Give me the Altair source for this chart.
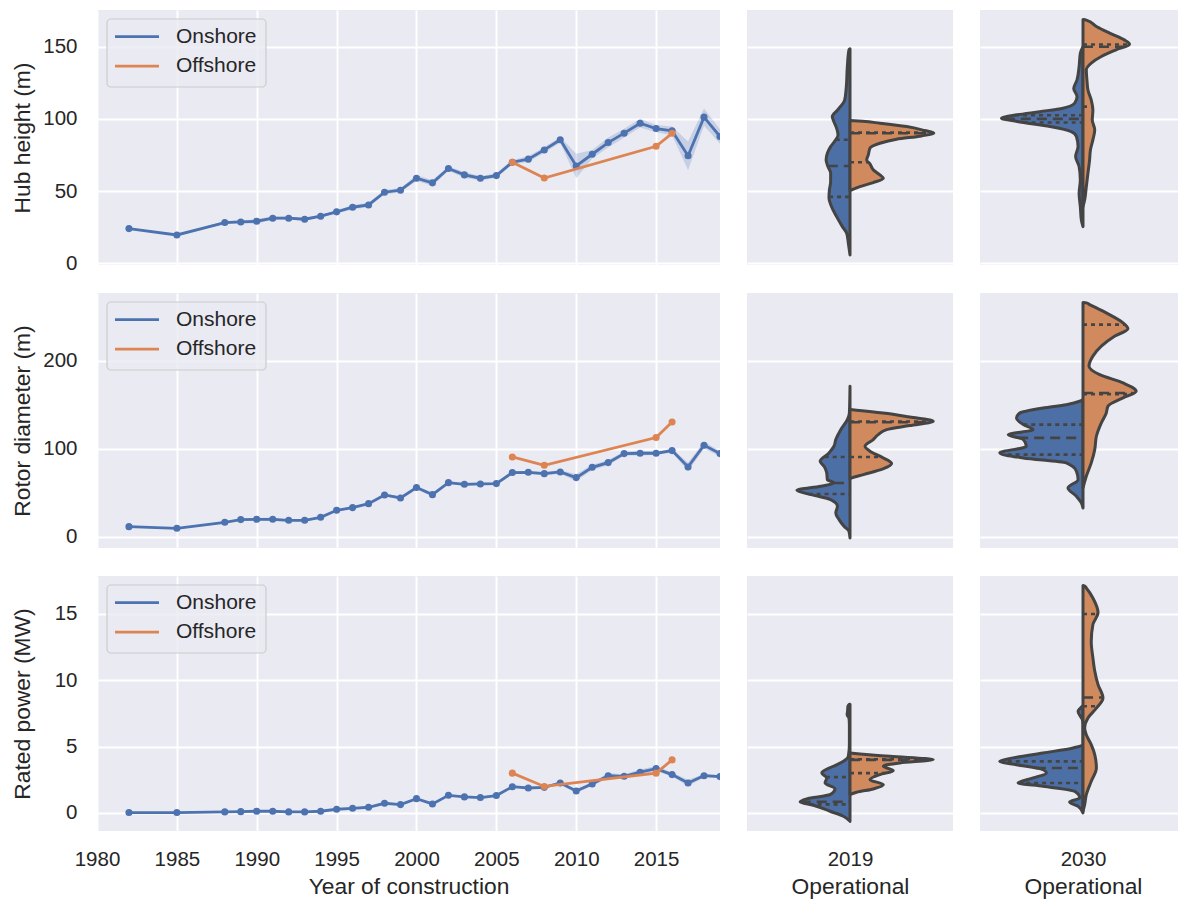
import altair as alt
import numpy as np
import pandas as pd

# ---------------------------------------------------------------------------
# Yearly mean turbine characteristics (left column)
# ---------------------------------------------------------------------------
YEARS = [1982, 1985, 1988, 1989, 1990, 1991, 1992, 1993, 1994, 1995, 1996, 1997,
         1998, 1999, 2000, 2001, 2002, 2003, 2004, 2005, 2006, 2007, 2008, 2009,
         2010, 2011, 2012, 2013, 2014, 2015, 2016, 2017, 2018, 2019]
OFF_YEARS = [2006, 2008, 2015, 2016]
SERIES = ["Onshore", "Offshore"]
X_TICKS = [1980, 1985, 1990, 1995, 2000, 2005, 2010, 2015]

HUB_ON = [24.0, 19.6, 28.2, 28.6, 29.1, 31.2, 31.2, 30.5, 32.6, 35.6, 38.8, 40.4,
          49.2, 50.6, 58.9, 55.7, 65.6, 61.2, 58.9, 60.7, 70.0, 72.1, 78.5, 85.5,
          67.4, 75.5, 83.6, 90.1, 97.0, 93.3, 91.7, 74.4, 101.2, 87.8]
HUB_CI = [0.5, 0.5, 1.0, 1.0, 1.5, 1.0, 1.0, 1.0, 1.0, 1.0, 1.5, 1.5,
          1.5, 1.5, 2.0, 2.0, 1.5, 2.0, 1.5, 1.5, 1.5, 2.0, 2.0, 2.0,
          8.5, 3.0, 3.5, 3.0, 3.0, 2.5, 3.0, 10.0, 6.0, 5.0]
HUB_OFF = [70.0, 59.0, 81.0, 90.0]

ROTOR_ON = [11.7, 9.8, 16.6, 19.7, 20.0, 20.0, 18.9, 18.9, 22.3, 30.2, 33.3, 37.8,
            47.6, 44.2, 56.0, 48.0, 61.6, 59.7, 60.1, 60.5, 73.0, 73.3, 71.8, 73.7,
            67.3, 79.0, 84.3, 94.5, 94.9, 94.9, 97.9, 79.4, 104.0, 94.5]
ROTOR_CI = [0.5, 0.5, 1.0, 1.0, 1.5, 2.0, 1.0, 1.0, 1.0, 1.0, 1.0, 1.0,
            1.5, 1.5, 2.0, 2.0, 1.5, 1.5, 1.5, 1.5, 1.5, 1.5, 2.0, 2.0,
            4.0, 3.0, 3.0, 2.5, 2.5, 2.0, 2.0, 5.0, 4.0, 3.0]
ROTOR_OFF = [90.7, 81.3, 112.7, 130.4]

POWER_ON = [0.03, 0.03, 0.08, 0.10, 0.13, 0.13, 0.08, 0.08, 0.13, 0.28, 0.35, 0.43,
            0.73, 0.63, 1.08, 0.68, 1.33, 1.21, 1.16, 1.31, 1.98, 1.88, 1.93, 2.26,
            1.66, 2.19, 2.81, 2.76, 3.07, 3.34, 2.89, 2.26, 2.81, 2.74]
POWER_CI = [0.01, 0.01, 0.02, 0.02, 0.03, 0.03, 0.02, 0.02, 0.02, 0.03, 0.03, 0.04,
            0.05, 0.05, 0.06, 0.06, 0.06, 0.06, 0.05, 0.05, 0.06, 0.06, 0.08, 0.1,
            0.15, 0.12, 0.2, 0.15, 0.2, 0.2, 0.15, 0.25, 0.12, 0.12]
POWER_OFF = [3.0, 2.0, 3.0, 4.0]

# ---------------------------------------------------------------------------
# Fleet distributions (split violins): outline value / half-width, quartiles
# ---------------------------------------------------------------------------
HUB_2019_ON_V = [148.5, 147.8, 136, 122, 113, 106, 101.6, 98, 93.5, 88.9, 85.5, 80.8, 76.2,
                 71.6, 67, 62.4, 56.6, 50.8, 45, 39.3, 32.3, 25.4, 20.8, 13.9, 5.8]
HUB_2019_ON_W = [0.0, 0.005, 0.013, 0.018, 0.026, 0.061, 0.086, 0.078, 0.065, 0.058, 0.069,
                 0.094, 0.110, 0.116, 0.107, 0.094, 0.094, 0.100, 0.102, 0.090, 0.065,
                 0.037, 0.016, 0.008, 0.0]
HUB_2019_ON_Q = [46.0, 67.4, 85.5]
HUB_2019_OFF_V = [98.8, 98.3, 97.0, 94.7, 91.9, 90.1, 88.2, 85.9, 83.1, 79.7, 75.1, 71.6,
                  68.8, 64.7, 61.2, 58.9, 55.9, 53.1, 50.8, 50.3]
HUB_2019_OFF_W = [0.0, 0.06, 0.145, 0.275, 0.363, 0.407, 0.347, 0.226, 0.145, 0.097, 0.089,
                  0.081, 0.097, 0.113, 0.145, 0.162, 0.113, 0.048, 0.008, 0.0]
HUB_2019_OFF_Q = [70.0, 90.0, 90.5]

HUB_2030_ON_V = [150, 145.5, 136, 127, 121, 115.5, 111, 107.4, 105, 102.8, 100.5, 98.2,
                 94.7, 91.2, 87.8, 80.8, 73.9, 67, 57.7, 48.5, 39.3, 30, 25.4]
HUB_2030_ON_W = [0.0, 0.013, 0.019, 0.029, 0.045, 0.029, 0.04, 0.097, 0.21, 0.32, 0.396,
                 0.32, 0.16, 0.057, 0.032, 0.024, 0.036, 0.019, 0.013, 0.019, 0.013,
                 0.008, 0.0]
HUB_2030_ON_Q = [97.5, 100.0, 102.5]
HUB_2030_OFF_V = [168.8, 168.4, 164, 159.4, 154.7, 151.7, 147.8, 143.2, 138.6, 134, 127,
                  120, 113, 106, 99.3, 92.4, 85.5, 78.5, 71.6, 62.4, 53, 43.9, 39.3]
HUB_2030_OFF_W = [0.0, 0.016, 0.065, 0.129, 0.2, 0.226, 0.16, 0.089, 0.04, 0.016, 0.019,
                  0.024, 0.04, 0.048, 0.045, 0.057, 0.048, 0.036, 0.032, 0.024, 0.016,
                  0.008, 0.0]
HUB_2030_OFF_Q = [108.5, 150.0, 151.5]

ROTOR_2019_ON_V = [170.9, 140.6, 133.1, 121.7, 110.4, 102.8, 95.3, 85.8, 80.2, 72.6, 65.0,
                   61.2, 57.5, 52.9, 48.0, 42.3, 34.8, 27.2, 19.7, 12.1, 6.4, -1.1]
ROTOR_2019_ON_W = [0.0, 0.003, 0.013, 0.045, 0.069, 0.078, 0.102, 0.145, 0.126, 0.113, 0.110,
                   0.078, 0.142, 0.258, 0.19, 0.094, 0.061, 0.069, 0.053, 0.029, 0.005, 0.0]
ROTOR_2019_ON_Q = [48.8, 61.2, 90.7]
ROTOR_2019_OFF_V = [144.4, 143.7, 140.6, 136, 131.2, 126.3, 121.7, 116, 110.4, 102.8, 97.2,
                    89.6, 83.2, 77.1, 70.7, 66.9, 65.8]
ROTOR_2019_OFF_W = [0.0, 0.032, 0.16, 0.29, 0.404, 0.29, 0.178, 0.137, 0.113, 0.073, 0.097,
                    0.162, 0.202, 0.16, 0.065, 0.008, 0.0]
ROTOR_2019_OFF_Q = [90.7, 130.0, 131.0]

ROTOR_2030_ON_V = [155.8, 153.9, 150, 146.3, 140.6, 135, 127.4, 121.7, 116, 110.4, 102.8,
                   95.3, 89.6, 83.9, 74.5, 65, 55.6, 46.1, 38.6, 32.9]
ROTOR_2030_ON_W = [0.0, 0.016, 0.081, 0.194, 0.307, 0.323, 0.29, 0.242, 0.363, 0.29, 0.275,
                   0.404, 0.29, 0.081, 0.032, 0.024, 0.073, 0.032, 0.008, 0.0]
ROTOR_2030_ON_Q = [93.4, 112.3, 127.4]
ROTOR_2030_OFF_V = [265.8, 265.4, 263.5, 254, 242.7, 236, 227.6, 216.3, 205, 193.6, 184,
                    174.7, 165.2, 157.7, 148.2, 140.6, 129.3, 114.2, 99, 84, 68.8, 55.6]
ROTOR_2030_OFF_W = [0.0, 0.016, 0.032, 0.113, 0.194, 0.218, 0.153, 0.089, 0.048, 0.029,
                    0.081, 0.194, 0.258, 0.194, 0.121, 0.113, 0.089, 0.065, 0.057, 0.04,
                    0.016, 0.0]
ROTOR_2030_OFF_Q = [162.0, 163.3, 240.8]

POWER_2019_ON_V = [8.2, 8.17, 8.04, 7.66, 7.4, 7.16, 6.66, 5.15, 4.27, 3.89, 3.52, 3.02,
                   2.64, 2.26, 1.83, 1.38, 1.06, 0.83, 0.58, 0.13, -0.25, -0.63]
POWER_2019_ON_W = [0.0, 0.005, 0.01, 0.012, 0.014, 0.005, 0.003, 0.003, 0.008, 0.032,
                   0.081, 0.137, 0.113, 0.121, 0.073, 0.097, 0.21, 0.242, 0.178, 0.097,
                   0.032, 0.0]
POWER_2019_ON_Q = [0.65, 0.85, 2.7]
POWER_2019_OFF_V = [4.52, 4.45, 4.27, 4.02, 3.77, 3.52, 3.19, 2.89, 2.51, 2.14, 1.81,
                    1.56, 1.38]
POWER_2019_OFF_W = [0.0, 0.048, 0.194, 0.404, 0.242, 0.162, 0.21, 0.145, 0.097, 0.162,
                    0.113, 0.032, 0.0]
POWER_2019_OFF_Q = [3.0, 4.0, 4.05]

POWER_2030_ON_V = [8.1, 7.9, 7.66, 7.29, 7.04, 6.66, 5.15, 4.9, 4.52, 4.15, 3.89, 3.64,
                   3.34, 3.02, 2.64, 2.26, 2.01, 1.63, 1.13, 0.83, 0.5, 0.0]
POWER_2030_ON_W = [0.0, 0.013, 0.024, 0.013, 0.003, 0.0, 0.0, 0.048, 0.194, 0.339, 0.404,
                   0.323, 0.21, 0.178, 0.242, 0.315, 0.194, 0.04, 0.016, 0.065, 0.024, 0.0]
POWER_2030_ON_Q = [2.26, 3.39, 3.89]
POWER_2030_OFF_V = [17.15, 17.1, 16.96, 16.2, 15.1, 14.2, 12.9, 11.7, 10.7, 9.67, 8.67,
                    7.9, 7.16, 6.4, 5.9, 5.15, 4.4, 3.39, 2.39, 1.38, 0.63, 0.13]
POWER_2030_OFF_W = [0.0, 0.008, 0.016, 0.048, 0.073, 0.048, 0.04, 0.048, 0.057, 0.073,
                    0.097, 0.065, 0.024, 0.008, 0.016, 0.04, 0.057, 0.065, 0.04, 0.016,
                    0.008, 0.0]
POWER_2030_OFF_Q = [8.04, 8.7, 15.0]

# ---------------------------------------------------------------------------
# Styling
# ---------------------------------------------------------------------------
FONT = "Liberation Sans"
BG = "#EAEAF2"
TXT = "#262626"
BLUE = "#4C72B0"
ORANGE = "#DD8452"
VBLUE = "#4C6FA6"
VORANGE = "#D18A5E"
EDGE = "#444444"

LEFT_W, VIO_W, VIO_W_LAST, ROW_H = 623, 206, 198, 255
TITLE_X = -75

ROWS = [
    dict(title="Hub height (m)", dom=[-1.2, 175.4], ticks=[0, 50, 100, 150],
         on=HUB_ON, ci=HUB_CI, off=HUB_OFF,
         v2019=(HUB_2019_ON_V, HUB_2019_ON_W, HUB_2019_ON_Q,
                HUB_2019_OFF_V, HUB_2019_OFF_W, HUB_2019_OFF_Q),
         v2030=(HUB_2030_ON_V, HUB_2030_ON_W, HUB_2030_ON_Q,
                HUB_2030_OFF_V, HUB_2030_OFF_W, HUB_2030_OFF_Q)),
    dict(title="Rotor diameter (m)", dom=[-12.5, 276.6], ticks=[0, 100, 200],
         on=ROTOR_ON, ci=ROTOR_CI, off=ROTOR_OFF,
         v2019=(ROTOR_2019_ON_V, ROTOR_2019_ON_W, ROTOR_2019_ON_Q,
                ROTOR_2019_OFF_V, ROTOR_2019_OFF_W, ROTOR_2019_OFF_Q),
         v2030=(ROTOR_2030_ON_V, ROTOR_2030_ON_W, ROTOR_2030_ON_Q,
                ROTOR_2030_OFF_V, ROTOR_2030_OFF_W, ROTOR_2030_OFF_Q)),
    dict(title="Rated power (MW)", dom=[-1.36, 17.86], ticks=[0, 5, 10, 15],
         on=POWER_ON, ci=POWER_CI, off=POWER_OFF,
         v2019=(POWER_2019_ON_V, POWER_2019_ON_W, POWER_2019_ON_Q,
                POWER_2019_OFF_V, POWER_2019_OFF_W, POWER_2019_OFF_Q),
         v2030=(POWER_2030_ON_V, POWER_2030_ON_W, POWER_2030_ON_Q,
                POWER_2030_OFF_V, POWER_2030_OFF_W, POWER_2030_OFF_Q)),
]


def legend_layers():
    box = alt.Chart(pd.DataFrame({"s": [0]})).mark_rect(
        fill=BG, fillOpacity=0.8, stroke="#CCCCCC", strokeWidth=1.2, cornerRadius=4
    ).encode(x=alt.value(10), x2=alt.value(169), y=alt.value(9), y2=alt.value(77))
    layers = [box]
    for i, (name, color) in enumerate(zip(SERIES, [BLUE, ORANGE])):
        ypos = 26.7 + 29.5 * i
        src = pd.DataFrame({"series": [name]})
        layers.append(alt.Chart(src).mark_rule(color=color, strokeWidth=2.7).encode(
            x=alt.value(18), x2=alt.value(62), y=alt.value(ypos)))
        layers.append(alt.Chart(src).mark_text(
            align="left", baseline="middle", font=FONT, fontSize=21, color=TXT
        ).encode(x=alt.value(79), y=alt.value(ypos), text="series:N"))
    return layers


def trend_panel(row, bottom):
    xscale = alt.Scale(domain=[1980, 2019], nice=False, zero=False)
    yscale = alt.Scale(domain=row["dom"], nice=False, zero=False)
    xaxis = alt.Axis(values=X_TICKS, format="d", labels=bottom, labelFlush=False,
                     title="Year of construction" if bottom else None, grid=True)
    yaxis = alt.Axis(values=row["ticks"], title=row["title"], grid=True,
                     titleX=TITLE_X, titleBaseline="middle")

    on = pd.DataFrame({"year": YEARS, "value": row["on"],
                       "lo": [v - c for v, c in zip(row["on"], row["ci"])],
                       "hi": [v + c for v, c in zip(row["on"], row["ci"])]})
    off = pd.DataFrame({"year": OFF_YEARS, "value": row["off"]})

    band = alt.Chart(on).mark_area(color=BLUE, opacity=0.22, clip=True).encode(
        x=alt.X("year:Q", scale=xscale, axis=xaxis),
        y=alt.Y("lo:Q", scale=yscale, axis=yaxis), y2="hi:Q")

    def series_layers(df, color):
        enc = dict(x=alt.X("year:Q", scale=xscale, axis=xaxis),
                   y=alt.Y("value:Q", scale=yscale, axis=yaxis))
        line = alt.Chart(df).mark_line(color=color, strokeWidth=2.8, clip=True).encode(**enc)
        pts = alt.Chart(df).mark_point(filled=True, color=color, size=50, opacity=1,
                                       clip=True).encode(**enc)
        return [line, pts]

    layers = [band] + series_layers(on, BLUE) + series_layers(off, ORANGE) + legend_layers()
    return alt.layer(*layers).properties(width=LEFT_W, height=ROW_H)


def half_violin(v, w, q, side, xscale, yscale, xaxis, yaxis):
    sign = -1.0 if side == "on" else 1.0
    color = VBLUE if side == "on" else VORANGE
    order = np.argsort(v)
    vs = np.asarray(v, dtype=float)[order]
    ws = np.asarray(w, dtype=float)[order]
    outline = pd.DataFrame({"value": vs, "edge": sign * ws, "center": 0.0})
    area = alt.Chart(outline).mark_area(
        orient="horizontal", interpolate="monotone", fill=color, fillOpacity=1,
        stroke=EDGE, strokeWidth=3, strokeJoin="round", clip=True
    ).encode(
        y=alt.Y("value:Q", scale=yscale, axis=yaxis),
        x=alt.X("edge:Q", scale=xscale, axis=xaxis),
        x2="center:Q")

    qdf = pd.DataFrame({"value": q, "edge": sign * np.interp(q, vs, ws), "center": 0.0,
                        "kind": ["quartile", "median", "quartile"]})
    start, end = ("edge", "center") if side == "on" else ("center", "edge")
    layers = [area]
    for kind, dash in (("quartile", [4, 4]), ("median", [10, 6])):
        layers.append(alt.Chart(qdf).transform_filter(alt.datum.kind == kind).mark_rule(
            stroke=EDGE, strokeWidth=2.6, strokeDash=dash
        ).encode(
            y=alt.Y("value:Q", scale=yscale, axis=yaxis),
            x=alt.X(f"{start}:Q", scale=xscale, axis=xaxis),
            x2=f"{end}:Q"))
    return layers


def violin_panel(row, key, label, width, bottom):
    on_v, on_w, on_q, off_v, off_w, off_q = row[key]
    xscale = alt.Scale(domain=[-0.5, -0.5 + width / VIO_W], nice=False, zero=False)
    yscale = alt.Scale(domain=row["dom"], nice=False, zero=False)
    yaxis = alt.Axis(values=row["ticks"], labels=False, title=None, grid=True)
    if bottom:
        xaxis = alt.Axis(values=[0], labelExpr=f"'{label}'", title="Operational",
                         titleX=VIO_W / 2, grid=False, labelFlush=False)
    else:
        xaxis = None
    layers = (half_violin(on_v, on_w, on_q, "on", xscale, yscale, xaxis, yaxis)
              + half_violin(off_v, off_w, off_q, "off", xscale, yscale, xaxis, yaxis))
    return alt.layer(*layers).properties(width=width, height=ROW_H)


panels = []
for i, row in enumerate(ROWS):
    bottom = i == len(ROWS) - 1
    panels += [
        trend_panel(row, bottom),
        violin_panel(row, "v2019", "2019", VIO_W, bottom),
        violin_panel(row, "v2030", "2030", VIO_W_LAST, bottom),
    ]

chart = alt.concat(
    *panels, columns=3, spacing={"row": 28, "column": 27}, bounds="flush", align="each"
).properties(
    padding={"left": 10, "top": 10, "right": 0, "bottom": 0},
    background="white",
).configure_view(
    fill=BG, stroke=None
).configure_axis(
    labelFont=FONT, titleFont=FONT, labelFontSize=20.5, titleFontSize=22.8,
    labelColor=TXT, titleColor=TXT, titleFontWeight="normal",
    gridColor="white", gridWidth=2, domain=False, ticks=False, tickSize=0,
).configure_axisX(
    labelPadding=18, titlePadding=6
).configure_axisY(
    labelPadding=20
)

chart.save("out.html", embed_options={"renderer": "svg", "actions": False})
